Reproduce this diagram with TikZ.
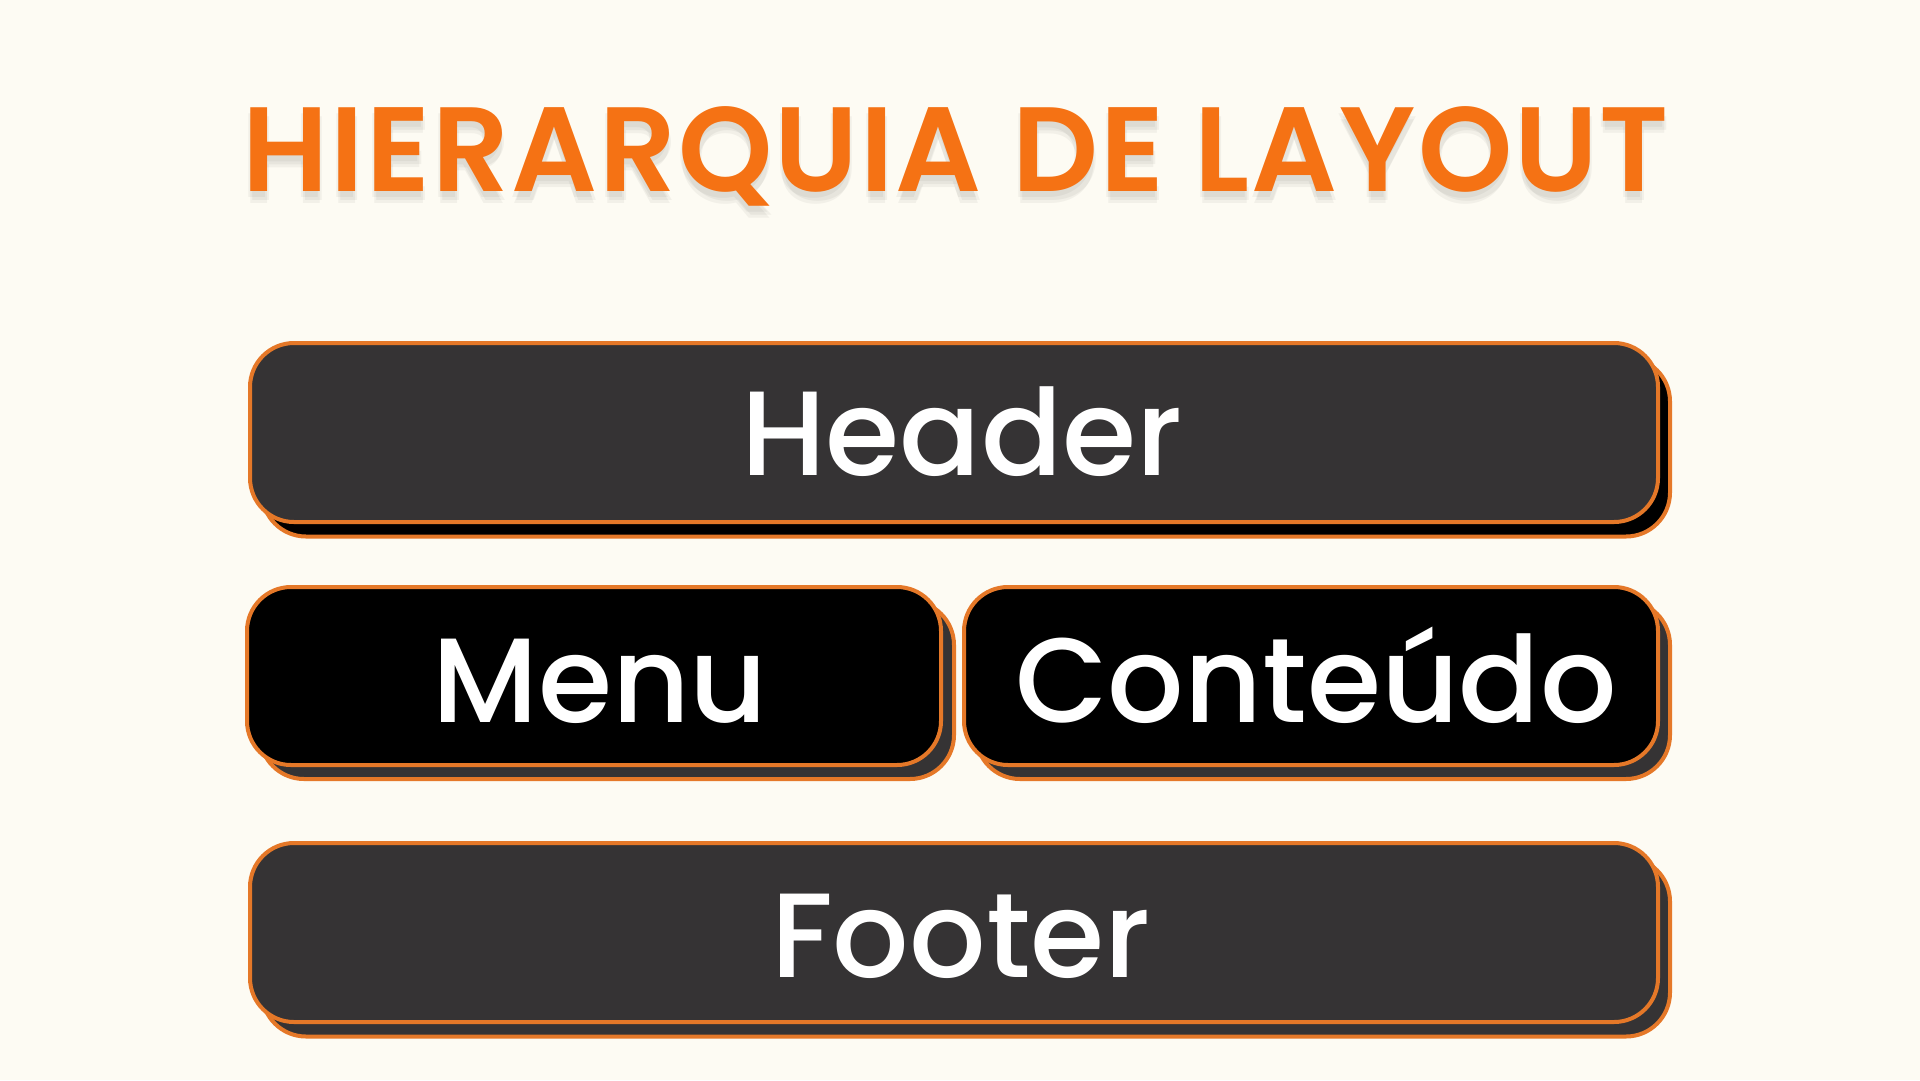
\documentclass[tikz,border=0pt]{standalone}
\usepackage{fontspec}
\setmainfont{Poppins}
\newfontfamily\labelfont{Poppins Medium}
\newfontfamily\titlefont{Poppins SemiBold}[LetterSpace=1.7]
\definecolor{bg}{HTML}{FDFBF3}
\definecolor{ttl}{HTML}{F57214}
\definecolor{edge}{HTML}{E57828}
\definecolor{dark}{HTML}{353334}
\tikzset{
  box/.style={rounded corners=44pt, line width=4pt, draw=edge, inner sep=0pt},
  widebox/.style={box, minimum width=1408pt, minimum height=179pt},
  halfbox/.style={box, minimum width=694pt, minimum height=178pt},
  lbl/.style={text=white, font=\labelfont\fontsize{120}{120}\selectfont, anchor=base, inner sep=0pt},
  ttlfont/.style={font=\titlefont\fontsize{120}{120}\selectfont, anchor=base, inner sep=0pt},
}
\begin{document}
\begin{tikzpicture}[x=1pt,y=-1pt]
\fill[bg] (0,0) rectangle (1920,1080);
\useasboundingbox (0,0) rectangle (1920,1080);
% title shadow (soft)
\foreach \dx/\dy in {-2/6,2/9,0/12}{
  \node[ttlfont, text=black, opacity=0.045] at (956+\dx,191+\dy) {HIERARQUIA DE LAYOUT};
}
\node (title) [ttlfont, text=ttl] at (956,191) {HIERARQUIA DE LAYOUT};
% header
\node (hdrS) [widebox, fill=black] at (966,447) {};
\node (hdr) [widebox, fill=dark] at (954,432.5) {};
\node (hdrT) [lbl] at (962,475) {Header};
% menu
\node (menuS) [halfbox, fill=dark] at (607,690) {};
\node (menu) [halfbox, fill=black] at (594,676) {};
\node (menuT) [lbl] at (600,722) {Menu};
% conteudo
\node (contS) [halfbox, fill=dark] at (1323,690) {};
\node (cont) [halfbox, fill=black] at (1311,676) {};
\node (contT) [lbl] at (1316,722) {Conteúdo};
% footer
\node (footS) [widebox, fill=dark] at (966,947) {};
\node (foot) [widebox, fill=dark] at (954,932.5) {};
\node (footT) [lbl] at (961,977) {Footer};
\end{tikzpicture}
\end{document}
